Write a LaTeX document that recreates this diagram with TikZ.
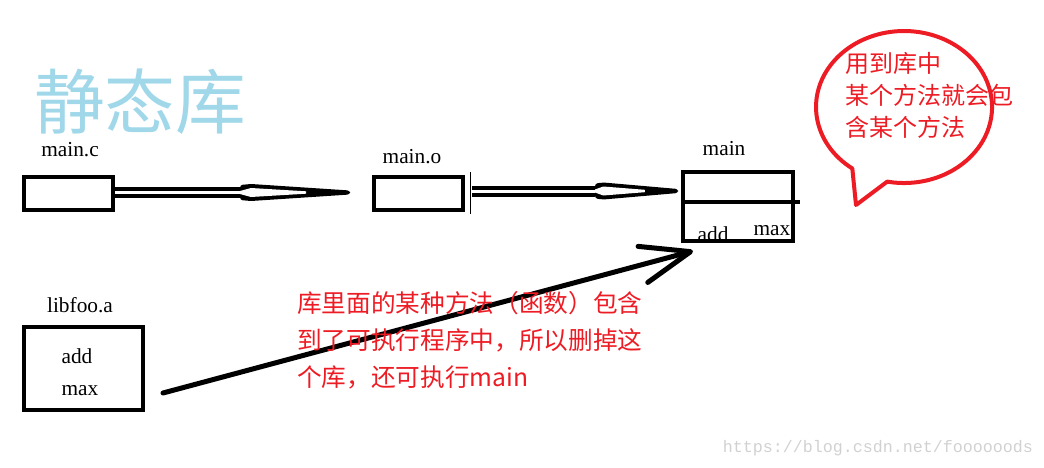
\documentclass[tikz,border=0pt]{standalone}
\usepackage{fontspec}
\setmainfont{Liberation Serif}
\newfontfamily\cjk{Noto Sans CJK SC}
\newfontfamily\webfont{Liberation Mono}
\usetikzlibrary{arrows.meta}
\definecolor{paintred}{RGB}{237,28,36}
\definecolor{titleblue}{RGB}{160,216,234}

\begin{document}
\begin{tikzpicture}[x=0.75pt,y=-0.75pt,
                    filebox/.style={draw,line width=3.2pt,inner sep=0pt},
                    label text/.style={font=\fontsize{16}{19}\selectfont,inner sep=0pt},
                    note text/.style={text=paintred,align=left,inner sep=0pt,anchor=west},
                    dbl shaft/.style={line width=3pt,double distance=2.25pt,double=white},
                    pics/dblhead/.style={code={
                        \fill[black,rounded corners=2pt] (0,-7.5) -- (10,-8.5) -- (100,-2) -- (100,2) -- (10,8.5) -- (0,7.5) -- cycle;
                        \fill[white] (0,-1.5) -- (10,-4.5) -- (60,-1.2) -- (60,1.2) -- (10,4.5) -- (0,1.5) -- cycle;}}]
                \useasboundingbox (0,0) rectangle (1044,467);
                \node[font=\cjk\fontsize{53}{60}\selectfont,text=titleblue,anchor=west,inner sep=0pt] (title) at (34,102) {静态库};

                \node[filebox,minimum width=66.75pt,minimum height=24.75pt] (mainc) at (68.5,193.5) {};
                \node[filebox,minimum width=66.75pt,minimum height=24.75pt] (maino) at (418.5,193.5) {};
                \node[filebox,minimum width=82.5pt,minimum height=51.75pt] (main) at (738,206.5) {};
                \node[filebox,minimum width=89.25pt,minimum height=62.25pt] (libfoo) at (83.5,368.5) {};

                \node[label text] (mainc label) at (70,150) {main.c};
                \node[label text] (maino label) at (412,157) {main.o};
                \node[label text] (main label) at (724,149) {main};
                \node[label text] (main add) at (713,234) {add};
                \node[label text] (main max) at (772,231) {max};
                \node[label text] (libfoo label) at (80,305) {libfoo.a};
                \node[label text] (libfoo add) at (77,356) {add};
                \node[label text] (libfoo max) at (80,391) {max};

                \coordinate (divider end) at (800,202);
                \draw[line width=3pt] (main.west |- divider end) -- (divider end);
                \draw[line width=0.75pt] (470,172) -- (470,214);

                \coordinate (head1) at (240,192.5);
                \draw[dbl shaft] (mainc.east |- head1) -- (head1);
                \pic[xscale=1.1] at (head1) {dblhead};

                \coordinate (tail2) at (472,191);
                \coordinate (head2) at (595,191);
                \draw[dbl shaft] (tail2) -- (head2);
                \pic[xscale=0.83] at (head2) {dblhead};

                \coordinate (libout) at (163,393);
                \coordinate (mainin) at (693,251);
                \draw[line width=3.75pt,line cap=round,-{Straight Barb[length=37pt,width=28pt,round]}] (libout) -- (mainin);

                \draw[paintred,line width=3pt,line join=round] (852.3,168.5)
                    arc[start angle=126,end angle=461,x radius=88,y radius=76] -- (856,205) -- cycle;
                \node[note text,font=\cjk\fontsize{18}{24}\selectfont] (bubble text) at (845,95)
                    {用到库中\\某个方法就会包\\含某个方法};
                \node[note text,font=\cjk\fontsize{18.5}{27.75}\selectfont] (lib note) at (297,340)
                    {库里面的某种方法（函数）包含\\到了可执行程序中，所以删掉这\\个库，还可执行main};

                \node[font=\webfont\fontsize{12.5}{15}\selectfont,text=black!18,inner sep=0pt] (watermark) at (878,448)
                    {https://blog.csdn.net/foooooods};
                \end{tikzpicture}
\end{document}
